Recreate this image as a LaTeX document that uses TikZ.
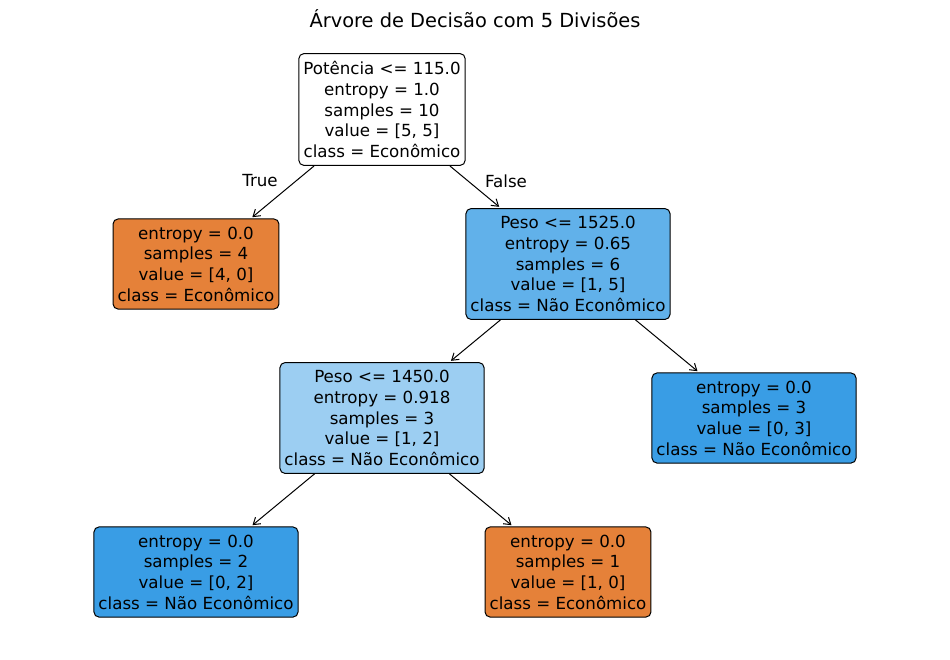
\documentclass[tikz,border=0pt]{standalone}
\usepackage{fontspec}
\setmainfont{DejaVu Sans}
\usetikzlibrary{arrows.meta}
\definecolor{orng}{HTML}{E58139}
\definecolor{blu}{HTML}{399DE5}
\definecolor{blumid}{HTML}{61B1EA}
\definecolor{blulight}{HTML}{9CCEF2}
\tikzset{
  treenode/.style={draw=black, line width=1pt, rounded corners=5pt, align=center,
    inner xsep=4.5pt, inner ysep=7.7pt, font=\fontsize{16.67}{20.7}\selectfont},
  edgelbl/.style={font=\fontsize{16.67}{20.7}\selectfont},
  conn/.style={line width=1pt, -{Straight Barb[length=6.5pt,width=8.5pt]}, shorten >=2pt, shorten <=0pt}
}
\begin{document}
\begin{tikzpicture}[x=1pt,y=-1pt]
\path[use as bounding box, fill=white] (0,0) rectangle (950,659);
\node[font=\fontsize{19.4}{23}\selectfont] (title) at (475,19) {Árvore de Decisão com 5 Divisões};
\node[treenode, fill=white] (root) at (382,109.5) {Potência <= 115.0\\entropy = 1.0\\samples = 10\\value = [5, 5]\\class = Econômico};
\node[treenode, fill=orng] (l1) at (196,264) {entropy = 0.0\\samples = 4\\value = [4, 0]\\class = Econômico};
\node[treenode, fill=blumid] (r1) at (568,264) {Peso <= 1525.0\\entropy = 0.65\\samples = 6\\value = [1, 5]\\class = Não Econômico};
\node[treenode, fill=blulight] (m2) at (382,418) {Peso <= 1450.0\\entropy = 0.918\\samples = 3\\value = [1, 2]\\class = Não Econômico};
\node[treenode, fill=blu] (r2) at (754,418) {entropy = 0.0\\samples = 3\\value = [0, 3]\\class = Não Econômico};
\node[treenode, fill=blu] (l3) at (196,572) {entropy = 0.0\\samples = 2\\value = [0, 2]\\class = Não Econômico};
\node[treenode, fill=orng] (r3) at (568,572) {entropy = 0.0\\samples = 1\\value = [1, 0]\\class = Econômico};
\draw[conn] (root) -- (l1);
\draw[conn] (root) -- (r1);
\draw[conn] (r1) -- (m2);
\draw[conn] (r1) -- (r2);
\draw[conn] (m2) -- (l3);
\draw[conn] (m2) -- (r3);
\node[edgelbl] (tlbl) at (260,181) {True};
\node[edgelbl] (flbl) at (506,181) {False};
\end{tikzpicture}
\end{document}
